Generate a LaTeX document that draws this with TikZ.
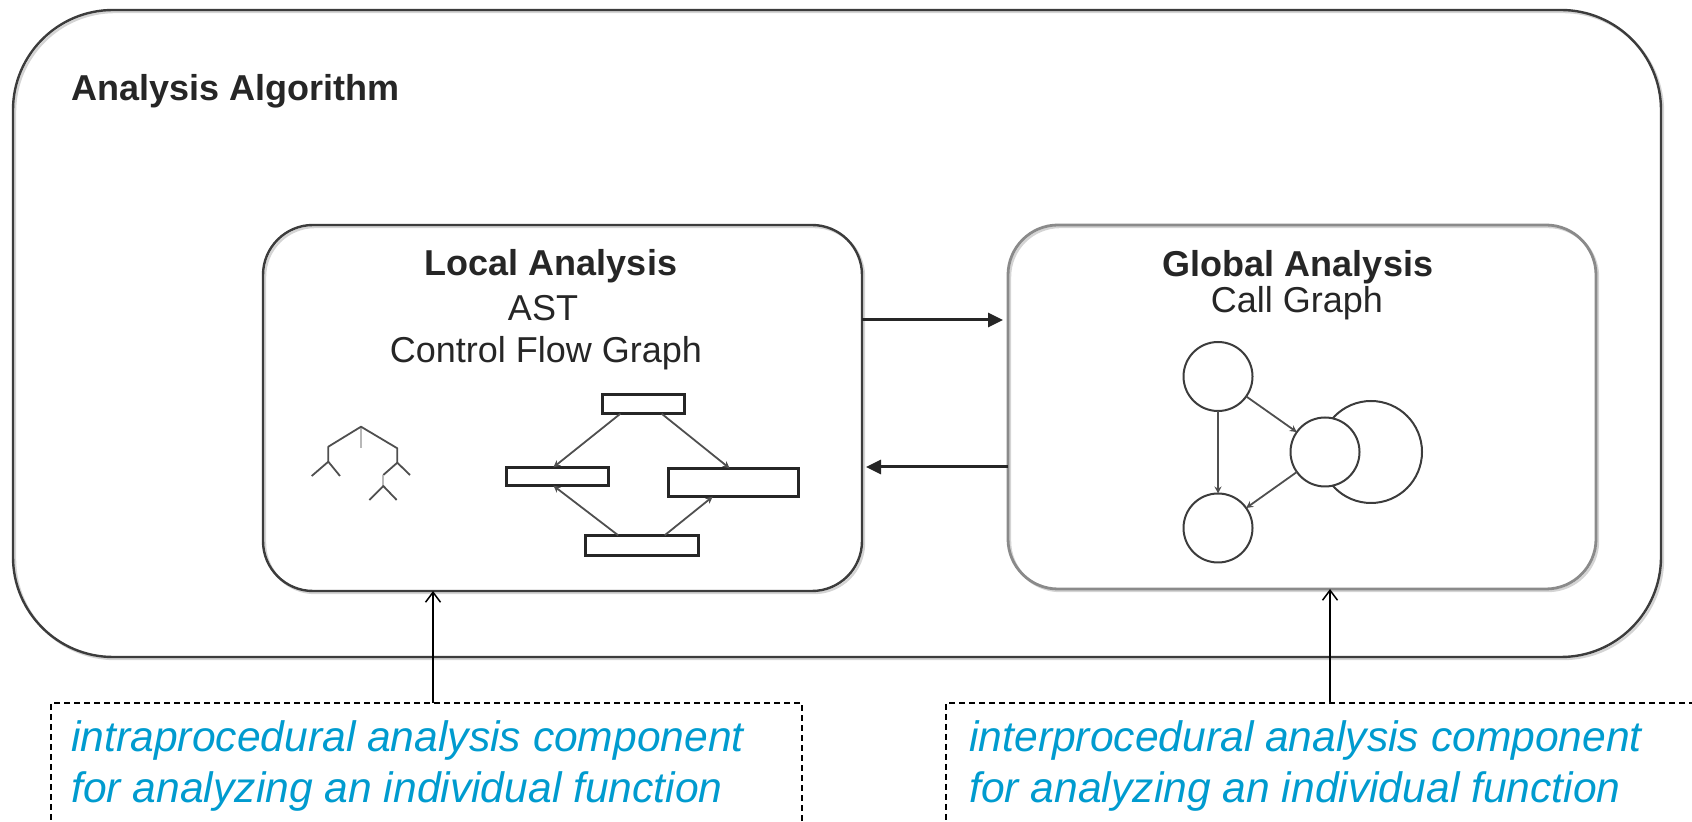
\documentclass[tikz,border=0pt]{standalone}
\usepackage{fontspec}
\setmainfont{Liberation Sans}
\usetikzlibrary{arrows.meta,calc}

\definecolor{ink}{HTML}{262626}
\definecolor{frame}{HTML}{3C3C3C}
\definecolor{framelight}{HTML}{8A8A8A}
\definecolor{shade}{HTML}{D4D4D4}
\definecolor{figline}{HTML}{4F4F4F}
\definecolor{stemgray}{HTML}{B8B8B8}
\definecolor{notecolor}{HTML}{009BCF}

\begin{document}
\begin{tikzpicture}[x=0.5pt, y=-0.5pt,
  panel/.style={draw=frame, line width=1.2pt, rounded corners=#1,
    inner sep=0pt, outer sep=0pt,
    preaction={draw=shade, line width=1.2pt,
      transform canvas={xshift=1pt, yshift=-1pt}}},
  heading/.style={font=\fontsize{18}{20}\selectfont\bfseries, text=ink, inner sep=0pt},
  bodytext/.style={font=\fontsize{18}{20}\selectfont, text=ink, inner sep=0pt},
  notetext/.style={font=\fontsize{21.3}{25}\selectfont\itshape, text=notecolor, inner sep=0pt},
  notebox/.style={draw=black, line width=0.7pt, dash pattern=on 3pt off 2pt,
    inner sep=0pt, outer sep=0pt, anchor=north west},
  cfgbox/.style={draw=ink, line width=1.3pt, inner sep=0pt, outer sep=0pt},
  cfgedge/.style={draw=figline, line width=0.9pt, -{Stealth[length=3.5pt,width=3.5pt]}},
  cgnode/.style={circle, draw=frame, line width=1pt, fill=white,
    minimum size=34.5pt, inner sep=0pt, outer sep=0pt},
  cgedge/.style={draw=figline, line width=0.9pt, -{Stealth[length=3.5pt,width=3.5pt]}},
  treestroke/.style={draw=figline, line width=0.9pt, line join=round},
  bigarrow/.style={draw=ink, line width=1.5pt, -{Triangle[length=7.5pt,width=7pt]}},
  pointer/.style={draw=black, line width=0.75pt, -{Straight Barb[length=5pt,width=7.5pt]}}
]
\useasboundingbox (0,0) rectangle (1692,822);

% outer frame
\node[panel=50pt, minimum width=824pt, minimum height=323.5pt] (outer) at (837,333.5) {};
\node[heading, anchor=base west] (title) at (71,101) {Analysis Algorithm};

% the two analysis panels
\node[panel=25pt, minimum width=299.5pt, minimum height=183pt] (local) at (562.5,408) {};
\node[panel=25pt, draw=framelight, line width=1.4pt, minimum width=294pt, minimum height=182pt] (global) at (1302,407) {};

\node[heading, anchor=base] (localtitle) at (551,276) {Local Analysis};
\node[bodytext, anchor=base] (ast) at (543,321) {AST};
\node[bodytext, anchor=base] (cfg) at (546,363) {Control Flow Graph};

\node[heading, anchor=base] (globaltitle) at (1298,277) {Global Analysis};
\node[bodytext, anchor=base] (callgraph) at (1297,313) {Call Graph};

% small syntax tree icon
\draw[draw=stemgray, line width=1pt] (361,427) -- (361,448);
\draw[treestroke] (328.3,461.7) -- (328.3,446.7) -- (361,426.7) -- (397.3,448.3) -- (397.3,462.7);
\draw[treestroke] (311.7,476) -- (328.3,461.7) -- (340,476);
\draw[treestroke] (383.3,475) -- (397.3,462.7) -- (410,475);
\draw[draw=stemgray, line width=1pt] (383.3,475) -- (383.3,486);
\draw[treestroke] (369.3,500) -- (383.3,486) -- (396.7,500);

% control flow graph icon
\node[cfgbox, minimum width=41.2pt, minimum height=9.7pt] (cfgtop) at (643.5,404) {};
\node[cfgbox, minimum width=51.2pt, minimum height=9.2pt] (cfgleft) at (557.5,476.5) {};
\node[cfgbox, minimum width=65.2pt, minimum height=14.2pt] (cfgright) at (733.5,482.5) {};
\node[cfgbox, minimum width=56.7pt, minimum height=10.2pt] (cfgbot) at (642,545.5) {};

\draw[cfgedge] ($(cfgtop.south west)!0.22!(cfgtop.south east)$) -- ($(cfgleft.north west)!0.46!(cfgleft.north east)$);
\draw[cfgedge] ($(cfgtop.south west)!0.72!(cfgtop.south east)$) -- ($(cfgright.north west)!0.47!(cfgright.north east)$);
\draw[cfgedge] ($(cfgbot.north west)!0.29!(cfgbot.north east)$) -- ($(cfgleft.south west)!0.46!(cfgleft.south east)$);
\draw[cfgedge] ($(cfgbot.north west)!0.70!(cfgbot.north east)$) -- ($(cfgright.south west)!0.34!(cfgright.south east)$);

% call graph icon
\coordinate (loopcentre) at (1371,452);
\draw[draw=frame, line width=1pt] (loopcentre) circle [radius=25.5pt];
\node[cgnode] (cgA) at (1218,376.5) {};
\node[cgnode] (cgB) at (1218,528) {};
\node[cgnode] (cgC) at (1325,452) {};
\draw[cgedge] (cgA) -- (cgC);
\draw[cgedge] (cgA) -- (cgB);
\draw[cgedge] (cgC) -- (cgB);

% data exchange between the panels
\draw[bigarrow, shorten >=2.5pt] ([yshift=44pt]local.east) -- ([yshift=44pt]local.east -| global.west);
\draw[bigarrow, shorten >=2pt] ([yshift=-29.5pt]local.east -| global.west) -- ([yshift=-29.5pt]local.east);

% annotations
\node[notebox, minimum width=375.5pt, minimum height=98.5pt] (notel) at (51,703) {};
\node[notebox, minimum width=375.5pt, minimum height=98.5pt] (noter) at (946,703) {};
\node[notetext, anchor=base west] (notel1) at (71,752) {intraprocedural analysis component};
\node[notetext, anchor=base west] (notel2) at (71,803) {for analyzing an individual function};
\node[notetext, anchor=base west] (noter1) at (969,752) {interprocedural analysis component};
\node[notetext, anchor=base west] (noter2) at (969,803) {for analyzing an individual function};

\coordinate (tapL) at ([xshift=3.25pt]notel.north);
\coordinate (tapR) at ([xshift=4.25pt]noter.north);
\draw[pointer] (tapL) -- (tapL |- local.south);
\draw[pointer] (tapR) -- (tapR |- global.south);
\end{tikzpicture}
\end{document}
